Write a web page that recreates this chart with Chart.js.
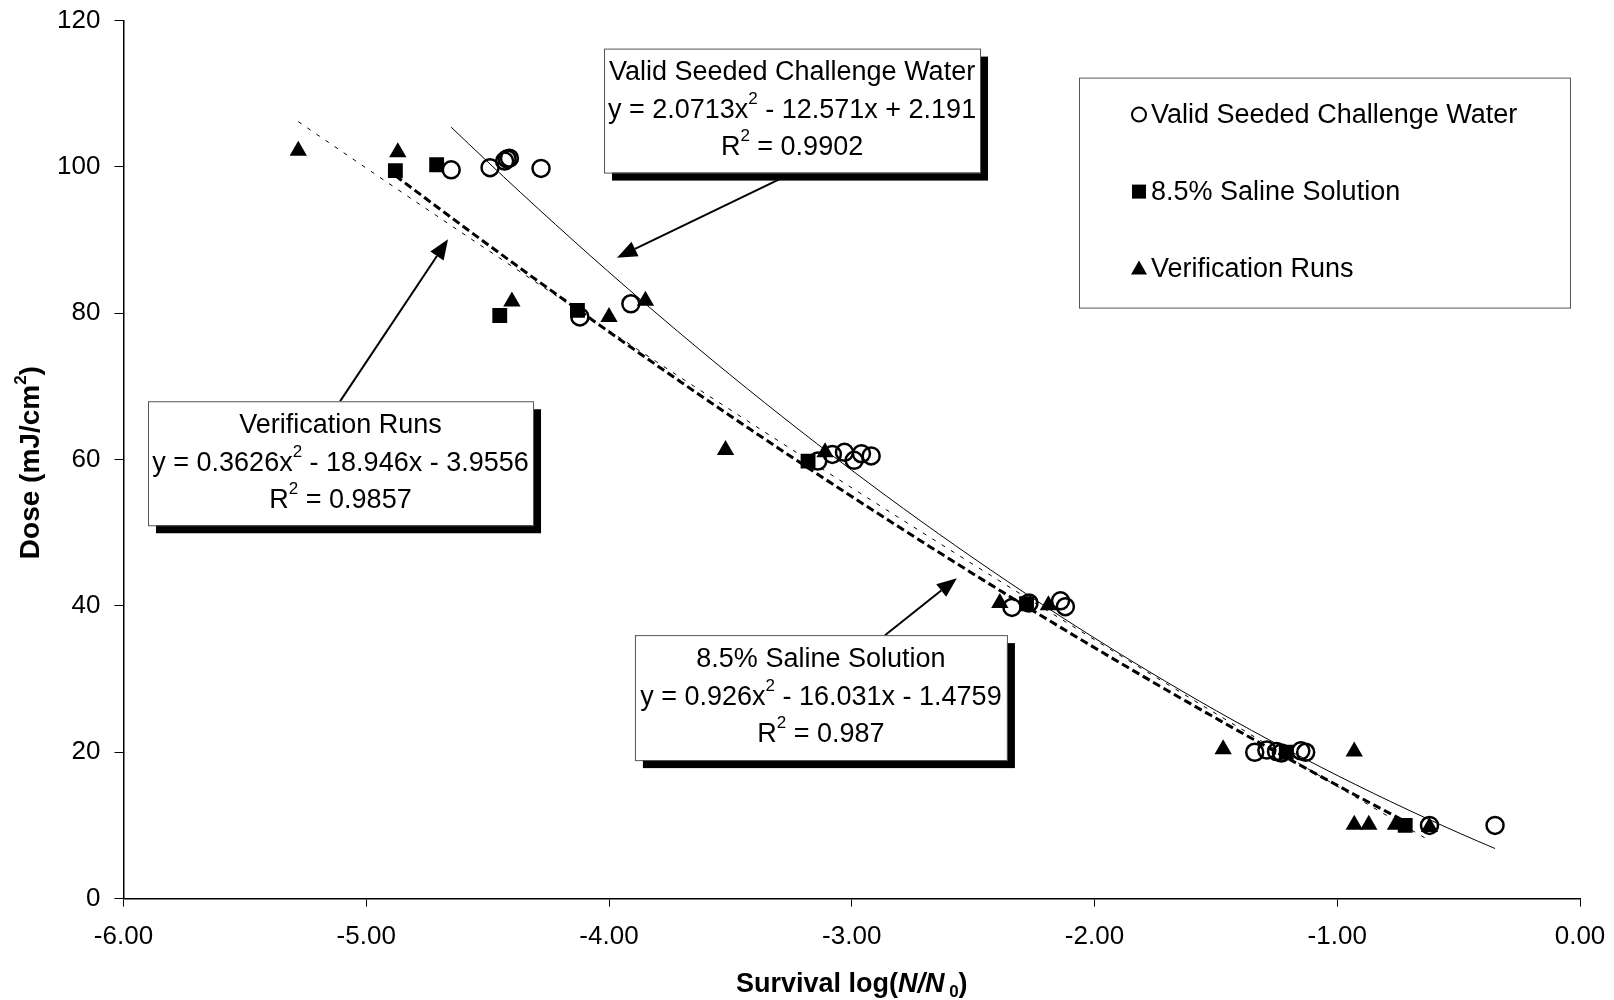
<!DOCTYPE html>
<html>
<head>
<meta charset="utf-8">
<script src="https://cdn.jsdelivr.net/npm/chart.js@4.4.0/dist/chart.umd.min.js"></script>
<style>
  body { margin: 0; background: #fff; }
  canvas { display: block; }
</style>
</head>
<body>
<canvas id="myChart" width="1614" height="1000" style="width:1614px;height:1000px"></canvas>
<script>
// Valid Seeded Challenge Water (open circles)
const validX = [-4.65, -4.49, -4.43, -4.42, -4.41, -4.28, -4.12, -3.91, -3.14, -3.08, -3.03, -2.99, -2.96, -2.92, -2.34, -2.27, -2.14, -2.12, -1.34, -1.29, -1.25, -1.23, -1.15, -1.13, -0.62, -0.35];
const validY = [99.6, 99.9, 100.8, 101.1, 101.2, 99.8, 79.5, 81.3, 59.8, 60.7, 61.0, 59.9, 60.8, 60.5, 39.8, 40.4, 40.7, 39.9, 20.0, 20.3, 20.1, 19.9, 20.2, 20.0, 10.0, 10.0];

// 8.5% Saline Solution (squares)
const salineX = [-4.88, -4.71, -4.45, -4.13, -3.18, -2.28, -1.21, -0.72];
const salineY = [99.5, 100.3, 79.7, 80.4, 59.8, 40.3, 20.0, 10.0];

// Verification Runs (triangles)
const verifX = [-5.28, -4.87, -4.40, -4.00, -3.85, -3.52, -3.11, -2.39, -2.19, -1.47, -0.93, -0.93, -0.87, -0.76, -0.62];
const verifY = [102.2, 102.0, 81.6, 79.5, 81.7, 61.3, 61.0, 40.4, 40.1, 20.4, 20.1, 10.1, 10.1, 10.1, 9.8];

// trendline coefficients as printed on the chart [a, b, c] and x range
const validFit = [2.0713, -12.571, 2.191];
const salineFit = [0.926, -16.031, -1.4759];
const verifFit = [0.3626, -18.946, -3.9556];
const validRange = [-4.65, -0.35];
const salineRange = [-4.88, -0.72];
const verifRange = [-5.28, -0.62];

const xTicks = [-6, -5, -4, -3, -2, -1, 0];
const yTicks = [0, 20, 40, 60, 80, 100, 120];

const FONT = '"Liberation Sans", Arial, sans-serif';

function toPoints(xs, ys) {
    return xs.map((x, i) => ({ x: x, y: ys[i] }));
}

function fitPoints(coef, range) {
    const pts = [];
    const n = 60;
    for (let i = 0; i <= n; i++) {
        const x = range[0] + (range[1] - range[0]) * i / n;
        pts.push({ x: x, y: coef[0] * x * x + coef[1] * x + coef[2] });
    }
    return pts;
}

// text boxes: centre in data units, size in px
const notes = [
    {
        cx: -3.246, cy: 107.7, w: 376, h: 124,
        lines: [
            [{ t: "Valid Seeded Challenge Water" }],
            [{ t: "y = 2.0713x" }, { t: "2", sup: true }, { t: " - 12.571x + 2.191" }],
            [{ t: "R" }, { t: "2", sup: true }, { t: " = 0.9902" }]
        ],
        arrow: [-3.267, 98.8, -3.967, 87.6]
    },
    {
        cx: -5.106, cy: 59.5, w: 385, h: 124,
        lines: [
            [{ t: "Verification Runs" }],
            [{ t: "y = 0.3626x" }, { t: "2", sup: true }, { t: " - 18.946x - 3.9556" }],
            [{ t: "R" }, { t: "2", sup: true }, { t: " = 0.9857" }]
        ],
        arrow: [-5.108, 67.96, -4.663, 90.1]
    },
    {
        cx: -3.127, cy: 27.47, w: 372, h: 125,
        lines: [
            [{ t: "8.5% Saline Solution" }],
            [{ t: "y = 0.926x" }, { t: "2", sup: true }, { t: " - 16.031x - 1.4759" }],
            [{ t: "R" }, { t: "2", sup: true }, { t: " = 0.987" }]
        ],
        arrow: [-2.863, 36.0, -2.567, 43.8]
    }
];

function drawRich(ctx, parts, cx, y, size) {
    const normal = size + "px " + FONT;
    const small = Math.round(size * 0.62) + "px " + FONT;
    let total = 0;
    parts.forEach(p => {
        ctx.font = p.sup ? small : normal;
        p.w = ctx.measureText(p.t).width;
        total += p.w;
    });
    let x = cx - total / 2;
    ctx.textAlign = "left";
    ctx.textBaseline = "middle";
    parts.forEach(p => {
        ctx.font = p.sup ? small : normal;
        ctx.fillText(p.t, x, p.sup ? y - size * 0.42 : y);
        x += p.w;
    });
}

function drawArrow(ctx, x1, y1, x2, y2) {
    const ang = Math.atan2(y2 - y1, x2 - x1);
    const len = 20, half = 8;
    const bx = x2 - Math.cos(ang) * len;
    const by = y2 - Math.sin(ang) * len;
    ctx.strokeStyle = "#000";
    ctx.lineWidth = 2;
    ctx.beginPath();
    ctx.moveTo(x1, y1);
    ctx.lineTo(bx, by);
    ctx.stroke();
    ctx.fillStyle = "#000";
    ctx.beginPath();
    ctx.moveTo(x2, y2);
    ctx.lineTo(bx - Math.sin(ang) * half, by + Math.cos(ang) * half);
    ctx.lineTo(bx + Math.sin(ang) * half, by - Math.cos(ang) * half);
    ctx.closePath();
    ctx.fill();
}

const decorPlugin = {
    id: "decor",
    afterDraw(chart) {
        const ctx = chart.ctx;
        const xs = chart.scales.x, ys = chart.scales.y;
        const area = chart.chartArea;
        ctx.save();

        // arrows + text boxes
        notes.forEach(n => {
            drawArrow(ctx, xs.getPixelForValue(n.arrow[0]), ys.getPixelForValue(n.arrow[1]),
                xs.getPixelForValue(n.arrow[2]), ys.getPixelForValue(n.arrow[3]));
        });
        notes.forEach(n => {
            const cx = xs.getPixelForValue(n.cx), cy = ys.getPixelForValue(n.cy);
            const left = cx - n.w / 2, top = cy - n.h / 2;
            ctx.fillStyle = "#000";
            ctx.fillRect(left + 8, top + 8, n.w, n.h);
            ctx.fillStyle = "#fff";
            ctx.fillRect(left, top, n.w, n.h);
            ctx.strokeStyle = "#555";
            ctx.lineWidth = 1;
            ctx.strokeRect(left + 0.5, top + 0.5, n.w, n.h);
            ctx.fillStyle = "#000";
            drawRich(ctx, n.lines[0], cx, cy - 38, 27);
            drawRich(ctx, n.lines[1], cx, cy, 27);
            drawRich(ctx, n.lines[2], cx, cy + 37, 27);
        });

        // legend box
        const lx = area.right - 501, ly = area.top + 57, lw = 491, lh = 230;
        ctx.fillStyle = "#fff";
        ctx.fillRect(lx, ly, lw, lh);
        ctx.strokeStyle = "#555";
        ctx.lineWidth = 1;
        ctx.strokeRect(lx + 0.5, ly + 0.5, lw, lh);
        const items = chart.data.datasets.filter(d => d.legendItem);
        items.forEach((d, i) => {
            const my = ly + 37 + i * 77;
            const mx = lx + 60;
            ctx.fillStyle = "#000";
            ctx.strokeStyle = "#000";
            ctx.lineWidth = 2;
            if (d.pointStyle === "circle") {
                ctx.beginPath();
                ctx.arc(mx, my, 7, 0, Math.PI * 2);
                ctx.stroke();
            } else if (d.pointStyle === "rect") {
                ctx.fillRect(mx - 7, my - 7, 14, 14);
            } else {
                ctx.beginPath();
                ctx.moveTo(mx, my - 8);
                ctx.lineTo(mx + 8, my + 6);
                ctx.lineTo(mx - 8, my + 6);
                ctx.closePath();
                ctx.fill();
            }
            ctx.font = "27px " + FONT;
            ctx.textAlign = "left";
            ctx.textBaseline = "middle";
            ctx.fillText(d.label, mx + 12, my + 1);
        });

        // axis titles
        ctx.fillStyle = "#000";
        const tParts = [
            { t: "Survival log(", f: "bold 27px " },
            { t: "N/N", f: "italic bold 27px " },
            { t: " 0", f: "bold 17px ", sub: true },
            { t: ")", f: "bold 27px " }
        ];
        let tw = 0;
        tParts.forEach(p => { ctx.font = p.f + FONT; p.w = ctx.measureText(p.t).width; tw += p.w; });
        let tx = (area.left + area.right) / 2 - tw / 2;
        ctx.textAlign = "left";
        ctx.textBaseline = "middle";
        tParts.forEach(p => {
            ctx.font = p.f + FONT;
            ctx.fillText(p.t, tx, p.sub ? 992 : 985);
            tx += p.w;
        });

        ctx.translate(31, (area.top + area.bottom) / 2);
        ctx.rotate(-Math.PI / 2);
        const yParts = [
            { t: "Dose (mJ/cm", f: "bold 28px " },
            { t: "2", f: "bold 17px ", sup: true },
            { t: ")", f: "bold 28px " }
        ];
        let yw = 0;
        yParts.forEach(p => { ctx.font = p.f + FONT; p.w = ctx.measureText(p.t).width; yw += p.w; });
        let yx = -yw / 2 - 3;
        yParts.forEach(p => {
            ctx.font = p.f + FONT;
            ctx.fillText(p.t, yx, p.sup ? -10 : 0);
            yx += p.w;
        });
        ctx.restore();
    }
};

const ctx = document.getElementById("myChart").getContext("2d");

new Chart(ctx, {
    type: "scatter",
    data: {
        datasets: [
            {
                type: "line",
                label: "Valid fit",
                data: fitPoints(validFit, validRange),
                borderColor: "#000",
                borderWidth: 1,
                pointRadius: 0,
                tension: 0
            },
            {
                type: "line",
                label: "Verification fit",
                data: fitPoints(verifFit, verifRange),
                borderColor: "#000",
                borderWidth: 1,
                borderDash: [4, 7],
                pointRadius: 0,
                tension: 0
            },
            {
                type: "line",
                label: "Saline fit",
                data: fitPoints(salineFit, salineRange),
                borderColor: "#000",
                borderWidth: 3,
                borderDash: [8, 4],
                pointRadius: 0,
                tension: 0
            },
            {
                label: "Valid Seeded Challenge Water",
                legendItem: true,
                data: toPoints(validX, validY),
                pointStyle: "circle",
                pointRadius: 8.5,
                borderWidth: 2.5,
                borderColor: "#000",
                backgroundColor: "rgba(0,0,0,0)"
            },
            {
                label: "8.5% Saline Solution",
                legendItem: true,
                data: toPoints(salineX, salineY),
                pointStyle: "rect",
                pointRadius: 10.5,
                borderWidth: 0,
                borderColor: "#000",
                backgroundColor: "#000"
            },
            {
                label: "Verification Runs",
                legendItem: true,
                data: toPoints(verifX, verifY),
                pointStyle: "triangle",
                pointRadius: 10,
                borderWidth: 0,
                borderColor: "#000",
                backgroundColor: "#000"
            }
        ]
    },
    options: {
        responsive: false,
        animation: false,
        devicePixelRatio: 1,
        layout: { padding: { top: 20.6, right: 34, left: 0, bottom: 0 } },
        plugins: {
            legend: { display: false },
            tooltip: { enabled: false }
        },
        scales: {
            x: {
                type: "linear",
                min: -6,
                max: 0,
                afterBuildTicks: s => { s.ticks = xTicks.map(v => ({ value: v })); },
                afterFit: s => { s.height = 101.4; s.paddingLeft = 0; s.paddingRight = 0; },
                ticks: {
                    callback: v => v.toFixed(2),
                    color: "#000",
                    font: { family: FONT, size: 26 },
                    padding: 15,
                    maxRotation: 0
                },
                grid: { drawOnChartArea: false, color: "#000", tickLength: 8, lineWidth: 1 },
                border: { color: "#000", width: 1.5 }
            },
            y: {
                min: 0,
                max: 120,
                afterBuildTicks: s => { s.ticks = yTicks.map(v => ({ value: v })); },
                afterFit: s => { s.width = 123.5; s.paddingTop = 0; s.paddingBottom = 0; },
                ticks: {
                    color: "#000",
                    font: { family: FONT, size: 26 },
                    padding: 14
                },
                grid: { drawOnChartArea: false, color: "#000", tickLength: 9, lineWidth: 1 },
                border: { color: "#000", width: 1.5 }
            }
        }
    },
    plugins: [decorPlugin]
});
</script>
</body>
</html>
